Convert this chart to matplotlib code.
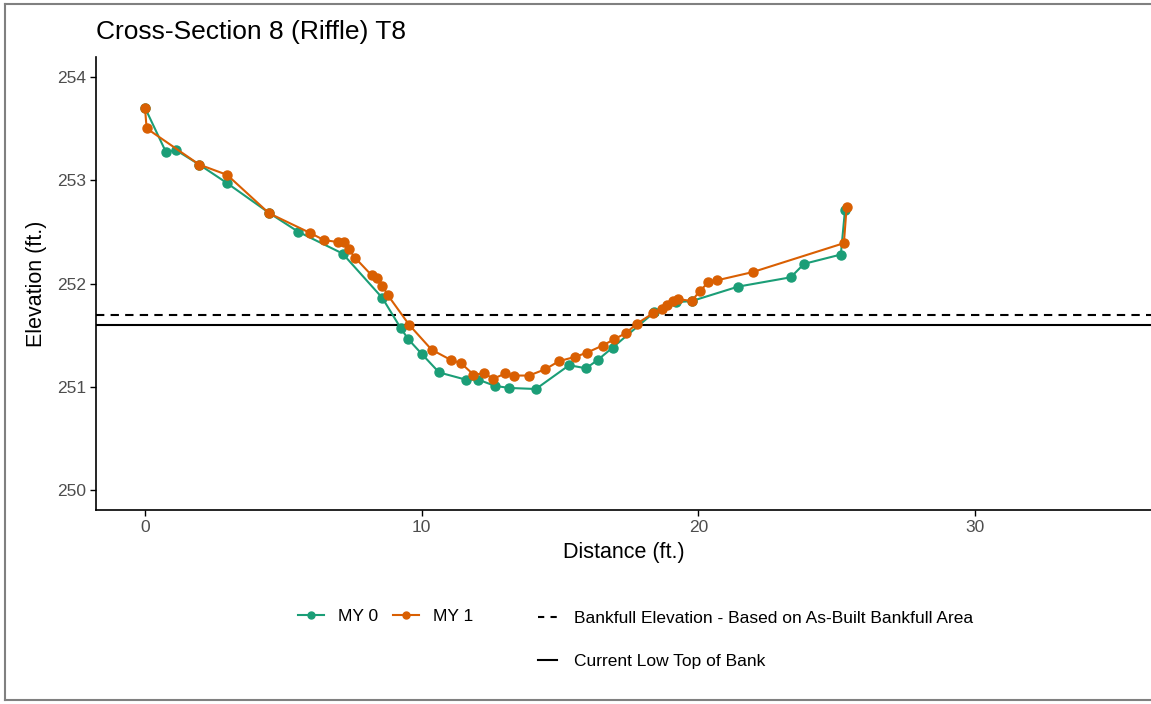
import matplotlib.pyplot as plt
from matplotlib.lines import Line2D

plt.rcParams['font.family'] = ['Liberation Sans', 'DejaVu Sans']

# MY 0 survey
my0_dist = [0.0, 0.76, 1.12, 1.96, 2.97, 4.5, 5.54, 7.14, 8.58, 9.24, 9.52, 10.0,
            10.63, 11.6, 12.05, 12.65, 13.17, 14.13, 15.33, 15.94, 16.36, 16.9,
            18.4, 19.2, 19.76, 21.44, 23.34, 23.82, 25.15, 25.3]
my0_elev = [253.70, 253.27, 253.29, 253.15, 252.97, 252.68, 252.50, 252.29, 251.86,
            251.57, 251.46, 251.32, 251.14, 251.07, 251.07, 251.01, 250.99, 250.98,
            251.21, 251.18, 251.26, 251.38, 251.72, 251.82, 251.83, 251.97, 252.06,
            252.19, 252.28, 252.71]

# MY 1 survey
my1_dist = [0.0, 0.06, 1.96, 2.97, 4.48, 5.96, 6.47, 6.99, 7.2, 7.37, 7.59, 8.19,
            8.37, 8.58, 8.77, 9.55, 10.36, 11.06, 11.42, 11.87, 12.26, 12.59, 13.03,
            13.34, 13.88, 14.46, 14.97, 15.54, 15.96, 16.54, 16.95, 17.38, 17.77,
            18.35, 18.67, 18.85, 19.1, 19.27, 19.76, 20.06, 20.36, 20.66, 21.96,
            25.26, 25.36]
my1_elev = [253.70, 253.50, 253.15, 253.05, 252.68, 252.49, 252.42, 252.40, 252.40,
            252.33, 252.25, 252.08, 252.05, 251.98, 251.89, 251.60, 251.36, 251.26,
            251.23, 251.12, 251.13, 251.08, 251.13, 251.11, 251.11, 251.17, 251.25,
            251.29, 251.33, 251.40, 251.46, 251.52, 251.61, 251.71, 251.75, 251.79,
            251.83, 251.85, 251.83, 251.93, 252.01, 252.03, 252.11, 252.39, 252.74]

bankfull_elev = 251.70
low_top_of_bank = 251.60

green = '#1b9e77'
orange = '#d95f02'

fig = plt.figure(figsize=(11.51, 7.04), dpi=100)
ax = fig.add_axes([96 / 1151, 1 - 510 / 704, 1 - 96 / 1151, (510 - 57) / 704])

ax.axhline(bankfull_elev, color='black', linestyle=(0, (4, 3)), linewidth=1.5)
ax.axhline(low_top_of_bank, color='black', linestyle='-', linewidth=1.5)
ax.plot(my0_dist, my0_elev, color=green, marker='o', markersize=6.5, linewidth=1.5)
ax.plot(my1_dist, my1_elev, color=orange, marker='o', markersize=6.5, linewidth=1.5)

ax.set_xlim(-1.77, 36.36)
ax.set_ylim(249.81, 254.19)
ax.set_xticks([0, 10, 20, 30])
ax.set_yticks([250, 251, 252, 253, 254])
ax.tick_params(labelsize=12.5, labelcolor='#4d4d4d', length=4, width=1, pad=3)
for side in ['top', 'right']:
    ax.spines[side].set_visible(False)
for side in ['left', 'bottom']:
    ax.spines[side].set_linewidth(1.2)

ax.set_xlabel('Distance (ft.)', fontsize=15.5, labelpad=5)
ax.set_ylabel('Elevation (ft.)', fontsize=15.5, labelpad=7)
fig.text(96 / 1151, 1 - 32 / 704, 'Cross-Section 8 (Riffle) T8', fontsize=19,
         va='center', ha='left')

# legends below the panel
series_handles = [
    Line2D([], [], color=green, marker='o', markersize=5, linewidth=1.5),
    Line2D([], [], color=orange, marker='o', markersize=5, linewidth=1.5),
]
leg1 = fig.legend(series_handles, ['MY 0', 'MY 1'], loc='center left',
                  bbox_to_anchor=(282 / 1151, 1 - 616 / 704), ncol=2, frameon=False,
                  fontsize=12.5, handlelength=1.5, columnspacing=0.9, handletextpad=0.8)
line_handles = [
    Line2D([], [], color='black', linestyle=(0, (3, 3)), linewidth=1.5),
    Line2D([], [], color='black', linestyle='-', linewidth=1.5),
]
leg2 = fig.legend(line_handles,
                  ['Bankfull Elevation - Based on As-Built Bankfull Area',
                   'Current Low Top of Bank'],
                  loc='upper left', bbox_to_anchor=(522 / 1151, 1 - 595 / 704),
                  frameon=False, fontsize=12.5, handlelength=1.1, handletextpad=1.0,
                  labelspacing=1.6)

# outer grey frame
for xs, ys in [([5, 5], [4, 700]), ([5, 1151], [4, 4]), ([5, 1151], [700, 700])]:
    fig.add_artist(Line2D([x / 1151 for x in xs], [1 - y / 704 for y in ys],
                          color='#808080', linewidth=1.5))

fig.savefig('out.png', dpi=100)
